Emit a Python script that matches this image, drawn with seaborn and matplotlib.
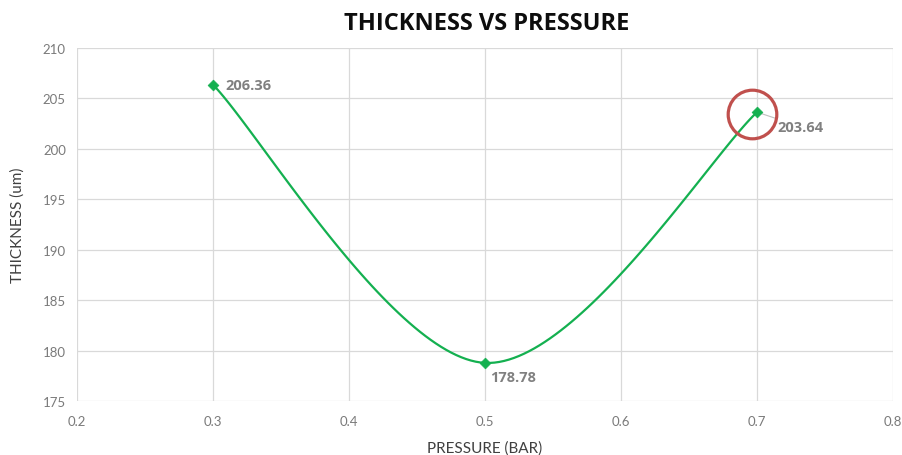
import numpy as np
import pandas as pd
import matplotlib
matplotlib.use("Agg")
import matplotlib.pyplot as plt
import matplotlib.transforms as mtransforms
import seaborn as sns

pressure = [0.3, 0.5, 0.7]
thickness = [206.36, 178.78, 203.64]
labels = ["206.36", "178.78", "203.64"]
x_ticks = [0.2, 0.3, 0.4, 0.5, 0.6, 0.7, 0.8]
y_ticks = [175, 180, 185, 190, 195, 200, 205, 210]

sns.set_theme(style="white")
plt.rcParams["font.family"] = ["Lato", "DejaVu Sans"]

GREEN = "#14B050"


def excel_smooth(xs, ys, n=60):
    P = np.column_stack([xs, ys]).astype(float)
    pts = [P[0]] + list(P) + [P[-1]]
    out = []
    for i in range(1, len(pts) - 2):
        p0, p1, p2, p3 = pts[i - 1], pts[i], pts[i + 1], pts[i + 2]
        c1 = p1 + (p2 - p0) / 6.0
        c2 = p2 - (p3 - p1) / 6.0
        t = np.linspace(0, 1, n)[:, None]
        seg = ((1 - t) ** 3) * p1 + 3 * ((1 - t) ** 2) * t * c1 + 3 * (1 - t) * t ** 2 * c2 + t ** 3 * p2
        out.append(seg if i == 1 else seg[1:])
    arr = np.vstack(out)
    return arr[:, 0], arr[:, 1]


cx, cy = excel_smooth(pressure, thickness)
curve = pd.DataFrame({"x": cx, "y": cy})
pts = pd.DataFrame({"x": pressure, "y": thickness})

fig = plt.figure(figsize=(9.03, 4.56), dpi=100)
ax = fig.add_axes([0.0853, 0.1184, 0.9037, 0.7741])

sns.lineplot(data=curve, x="x", y="y", sort=False, estimator=None, color=GREEN,
             linewidth=1.6, ax=ax, zorder=3)
sns.scatterplot(data=pts, x="x", y="y", marker="D", s=30, color=GREEN,
                edgecolor=GREEN, linewidth=0.5, ax=ax, zorder=4)

ax.set_xlim(0.2, 0.8)
ax.set_ylim(175, 210)
ax.set_xticks(x_ticks)
ax.set_yticks(y_ticks)
ax.set_xticklabels([f"{v:g}" for v in x_ticks])
ax.set_yticklabels([str(v) for v in y_ticks])
ax.grid(True, color="#D9D9D9", linewidth=0.9)
ax.set_axisbelow(True)
for s in ax.spines.values():
    s.set_visible(False)
ax.tick_params(axis="both", length=0, labelsize=9.5, colors="#7A7A7A", pad=8)
ax.tick_params(axis="x", pad=10)

ax.set_xlabel("PRESSURE (BAR)", fontsize=11, color="#404040", labelpad=10)
ax.set_ylabel("THICKNESS (um)", fontsize=11, color="#404040", labelpad=13)

fig.text(0.539, 0.947, "THICKNESS VS PRESSURE", ha="center", va="center",
         fontsize=17, fontweight="bold", color="#0D0D0D", family=["Open Sans", "DejaVu Sans"])

lab_kw = dict(fontsize=10.5, fontweight="bold", color="#808080",
              family=["Open Sans", "DejaVu Sans"])
ax.annotate(labels[0], (pressure[0], thickness[0]), xytext=(9, 0),
            textcoords="offset points", ha="left", va="center", **lab_kw)
ax.annotate(labels[1], (pressure[1], thickness[1]), xytext=(4, -10),
            textcoords="offset points", ha="left", va="center", **lab_kw)
ax.annotate(labels[2], (pressure[2], thickness[2]), xytext=(15, -10.5),
            textcoords="offset points", ha="left", va="center",
            arrowprops=dict(arrowstyle="-", color="#BFBFBF", lw=0.8,
                            shrinkA=0, shrinkB=1), **lab_kw)

# highlight circle around the last point
tr = mtransforms.offset_copy(ax.transData, fig=fig, x=-3.5, y=-1.5, units="points")
ax.plot([pressure[2]], [thickness[2]], marker="o", markersize=35, mfc="none",
        mec="#C0504D", mew=2.3, transform=tr, zorder=5, clip_on=False)

fig.savefig("out.png", dpi=100)
